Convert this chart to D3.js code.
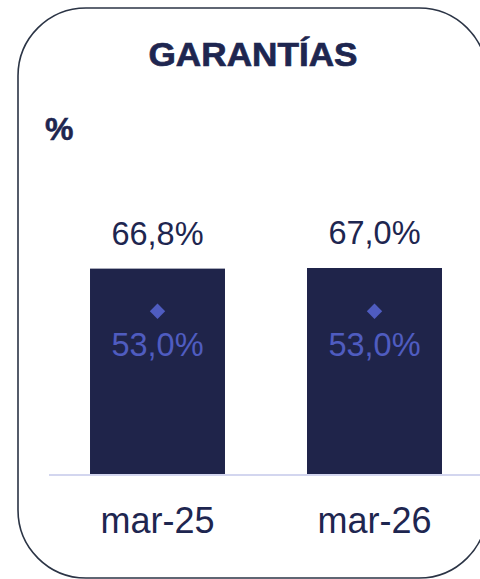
<!DOCTYPE html>
<html><head><meta charset="utf-8">
<script src="https://cdn.jsdelivr.net/npm/d3@7"></script>
<style>html,body{margin:0;padding:0;background:#fff;overflow:hidden}</style>
</head><body>
<svg id="c" width="480" height="579"></svg>
<script>
const categories = ["mar-25", "mar-26"];
const barValues = [66.8, 67.0];
const markerValues = [53.0, 53.0];
const barLabels = ["66,8%", "67,0%"];
const markerLabels = ["53,0%", "53,0%"];
const title = "GARANTÍAS";
const unit = "%";

const svg = d3.select("#c");
const navy = "#1e2650";
const barColor = "#1f244a";
const accent = "#4f5cc0";

// frame
const fx = 18, fy = 8, fw = 469, fh = 570, r = 68;
svg.append("rect").attr("x", fx).attr("y", fy).attr("width", fw).attr("height", fh)
  .attr("rx", r).attr("ry", r).attr("fill", "none").attr("stroke", "#2b3445").attr("stroke-width", 1.6);

svg.append("text").attr("x", 253).attr("y", 66).attr("text-anchor", "middle")
  .attr("font-family", "'Liberation Sans', Arial, sans-serif").attr("font-weight", 700)
  .attr("font-size", 34).attr("textLength", 209).attr("lengthAdjust", "spacingAndGlyphs")
  .attr("fill", navy).attr("stroke", navy).attr("stroke-width", 0.7).text(title);

svg.append("text").attr("x", 45).attr("y", 140)
  .attr("font-family", "'Liberation Sans', Arial, sans-serif").attr("font-weight", 700)
  .attr("font-size", 32).attr("fill", navy).attr("stroke", navy).attr("stroke-width", 0.5).text(unit);

const x = d3.scaleBand().domain(categories).range([49, 483]).paddingInner(0.378).paddingOuter(0.189);
const y = d3.scaleLinear().domain([0, 67]).range([475, 268]);

const g = svg.append("g");
g.selectAll("rect.bar").data(categories).join("rect").attr("class", "bar")
  .attr("x", d => x(d)).attr("width", x.bandwidth())
  .attr("y", (d, i) => y(barValues[i])).attr("height", (d, i) => y(0) - y(barValues[i]))
  .attr("fill", barColor);

// baseline axis
const axis = d3.axisBottom(x).tickSize(0).tickPadding(0);
const ax = svg.append("g").attr("transform", `translate(0,${y(0)})`).call(axis);
ax.select(".domain").attr("stroke", "#d3d6ef").attr("stroke-width", 2).attr("d", "M49,0H483");
ax.selectAll(".tick text").attr("dy", null).attr("y", 58)
  .attr("font-family", "'Liberation Sans', Arial, sans-serif").attr("font-size", 36).attr("fill", navy);

g.selectAll("text.bl").data(categories).join("text").attr("class", "bl")
  .attr("x", d => x(d) + x.bandwidth() / 2).attr("y", (d, i) => y(barValues[i]) - 24)
  .attr("text-anchor", "middle").attr("font-family", "'Liberation Sans', Arial, sans-serif")
  .attr("font-size", 32.5).attr("fill", navy).text((d, i) => barLabels[i]);

g.selectAll("path.mk").data(categories).join("path").attr("class", "mk")
  .attr("transform", (d, i) => `translate(${x(d) + x.bandwidth() / 2},${y(markerValues[i])})`)
  .attr("d", d3.symbol(d3.symbolDiamond2, 150)).attr("fill", accent);

g.selectAll("text.ml").data(categories).join("text").attr("class", "ml")
  .attr("x", d => x(d) + x.bandwidth() / 2).attr("y", (d, i) => y(markerValues[i]) + 45)
  .attr("text-anchor", "middle").attr("font-family", "'Liberation Sans', Arial, sans-serif")
  .attr("font-size", 32.5).attr("fill", accent).text((d, i) => markerLabels[i]);
</script>
</body></html>
